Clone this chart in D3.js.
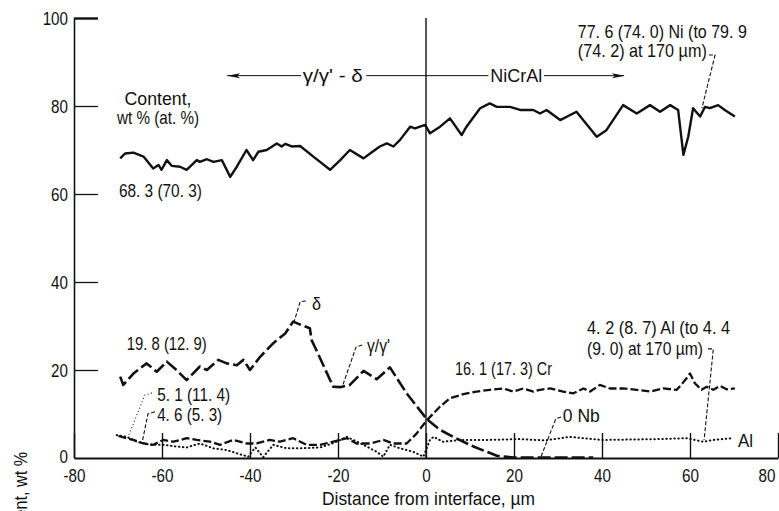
<!DOCTYPE html>
<html>
<head>
<meta charset="utf-8">
<script src="https://cdn.jsdelivr.net/npm/d3@7/dist/d3.min.js"></script>
<style>
  body { margin: 0; background: #fff; }
  svg text { font-family: "Liberation Sans", Arial, sans-serif; fill: #111; }
</style>
</head>
<body>
<div id="container"></div>
<script>
// axis ticks
var xTicks = [-80, -60, -40, -20, 0, 20, 40, 60, 80];
var yTicks = [0, 20, 40, 60, 80, 100];

// Ni content, wt % (solid line)
var niPoints = [[-69.5,68.1],[-68.4,69.2],[-66.5,69.4],[-64.2,68.5],[-62,65.8],[-60.8,66.6],[-60.1,65.5],
  [-58.9,67.7],[-57.8,66.4],[-55.9,66.2],[-54.4,65.5],[-52.1,67.7],[-51.4,67.3],[-49.8,67.9],[-48.3,67.3],
  [-46.4,67.7],[-44.5,63.9],[-43,66.2],[-40.8,70],[-39.3,67.7],[-38.1,69.6],[-36.2,70],[-33.9,71.5],
  [-32.8,70.8],[-32,71.4],[-30.5,70.8],[-28.6,70.9],[-25.6,68.5],[-21.8,65.5],[-19.5,67.7],[-17.3,70],
  [-14.2,68.1],[-12.7,69.2],[-10.5,70.8],[-8.9,71.5],[-7.4,70.8],[-5.9,72.3],[-3.6,75.3],[-2.5,74.9],
  [-0.2,75.7],[0.9,73.8],[3.2,75.3],[5.45,77.2],[8.1,73.4],[9.2,75.3],[12.3,79.5],[14.5,80.6],[16.1,79.8],
  [19.1,79.8],[21.4,79.1],[24.4,79.1],[25.9,78.3],[27.4,79.1],[30.5,76.8],[34.2,78.7],[38.8,73.0],
  [41.0,74.5],[44.8,80.2],[47.9,78.3],[50.9,80.2],[53.2,78.7],[55.5,80.2],[57.3,79.1],[58.5,68.9],
  [59.6,73.0],[60.7,79.5],[62.3,77.6],[63.4,79.8],[64.5,79.5],[66.4,80.2],[67.9,79.1],[70.2,77.6]];

// Nb content, wt % (long dashes)
var nbPoints = [[-69.5,18.5],[-68.8,16.6],[-66.5,19.2],[-63.5,21.5],[-61.2,19.6],[-58.9,21.9],[-56.7,20],
  [-54.4,17.7],[-51.4,20.8],[-49.8,20],[-47.2,22.3],[-45.3,21.5],[-43,21.1],[-41.5,22.3],[-40,20],
  [-37.7,23.0],[-34.7,26.1],[-32,28.3],[-30.2,31.0],[-28.3,30.2],[-26.4,29.5],[-26,26.8],[-24.9,24.5],
  [-21.1,16.2],[-19.5,16.1],[-17.3,16.6],[-14.2,19.8],[-11.2,17.9],[-8.2,20.6],[-4.4,14.7],[0.2,8.8],
  [3.2,6.4],[6.2,4.8],[10.8,2.6],[16.1,0.5],[20,0.1],[38,0.1]];

// Cr content, wt % (short dashes)
var crPoints = [[-69.9,5.0],[-66.5,4.1],[-64.2,3.3],[-62,3.0],[-59.7,4.1],[-57.4,3.7],[-54.4,4.5],
  [-52.1,4.1],[-49.1,3.7],[-46.8,3.0],[-43.8,4.1],[-40.8,3.3],[-38.5,3.3],[-35.5,4.1],[-33.2,3.7],
  [-30.2,4.5],[-27.1,3.0],[-24.1,3.0],[-21.1,3.7],[-18.0,4.5],[-15.8,3.3],[-12.7,3.3],[-9.7,4.1],
  [-7.4,3.3],[-4.4,3.3],[-2.1,5.6],[0.2,8.6],[3.2,11.7],[5.45,13.6],[8.5,14.5],[11.5,15.1],[14.5,15.5],
  [17.6,15.8],[19.8,15.1],[22.1,15.8],[24.4,15.1],[25.9,15.5],[28.2,15.8],[31.2,15.1],[33.5,14.7],
  [35.8,15.8],[37.3,15.1],[39.5,16.6],[41.8,15.8],[44.8,15.8],[47.9,15.5],[50.9,15.1],[53.9,15.8],
  [57,15.5],[58.9,17.7],[60,19.2],[61.1,17.0],[62.6,15.5],[63.8,16.2],[65.3,15.5],[66.8,16.4],
  [68.3,15.6],[70.2,15.8]];

// Al content, wt % (dotted)
var alPoints = [[-70.3,5.2],[-68,4.8],[-65.8,3.7],[-62.7,3.0],[-59.7,3.0],[-56.7,2.6],[-54.4,2.4],
  [-51.4,3.3],[-48.3,2.2],[-45.3,1.8],[-42.5,0.9],[-40.4,0.3],[-38.8,2.4],[-37,0.2],[-34.7,3.0],
  [-31.7,2.2],[-28.6,2.2],[-24,2.4],[-21,3.4],[-18,4.8],[-14.2,3.0],[-11.2,1.4],[-9.7,0.3],[-8.2,3.0],
  [-5.9,2.2],[-2.9,1.4],[-0.6,0.3],[0.9,4.1],[1.7,4.8],[3.9,3.7],[7.7,4.1],[14,4.1],[21.4,4.3],
  [27,4.0],[32.7,4.8],[40,4.1],[47,4.2],[53,4.3],[59.2,4.5],[63,3.7],[65.3,4.1],[69.5,4.5]];

var margin = {left: 74, right: 1, top: 18, bottom: 53};
var width = 779, height = 511;
var fontSize = "19px";

var svg = d3.select("#container").append("svg")
  .attr("width", width)
  .attr("height", height);

var xScale = d3.scaleLinear().domain([-80, 80]).range([margin.left, width - margin.right]);
var yScale = d3.scaleLinear().domain([0, 100]).range([height - margin.bottom, margin.top]);

// squeeze text horizontally, the figure uses a condensed face
function narrow(sel, k) {
  sel.each(function() {
    var w = this.getComputedTextLength();
    d3.select(this).attr("textLength", w * k).attr("lengthAdjust", "spacingAndGlyphs");
  });
}

// y axis, ticks pointing into the plot
var yAxis = d3.axisLeft(yScale)
  .tickValues(yTicks.filter(function(d) { return d > 0; }))
  .tickSizeInner(-24)
  .tickSizeOuter(0)
  .tickPadding(6);

var gy = svg.append("g")
  .attr("transform", "translate(" + margin.left + ",0)")
  .call(yAxis);
gy.select(".domain").attr("stroke", "#111").attr("stroke-width", 1.6);
gy.selectAll(".tick line").attr("stroke", "#111").attr("stroke-width", 1.3);
gy.selectAll(".tick text").style("font-size", fontSize).attr("fill", "#111").call(narrow, 0.8);
gy.selectAll(".tick").filter(function(d) { return d === 100; })
  .select("line").attr("stroke-width", 2.4);

// zero label on y
svg.append("text")
  .attr("x", margin.left - 6)
  .attr("y", yScale(0) - 1)
  .attr("dy", "0.3em")
  .attr("text-anchor", "end")
  .style("font-size", fontSize)
  .text("0")
  .call(narrow, 0.8);

// x axis, ticks pointing up
var xAxis = d3.axisBottom(xScale)
  .tickValues(xTicks)
  .tickSizeInner(-25)
  .tickSizeOuter(0)
  .tickPadding(11)
  .tickFormat(function(d) { return d < 0 ? "-" + Math.abs(d) : "" + d; });

var gx = svg.append("g")
  .attr("transform", "translate(0," + yScale(0) + ")")
  .call(xAxis);
gx.select(".domain").attr("stroke", "#111").attr("stroke-width", 2.2);
gx.selectAll(".tick line").attr("stroke", "#111").attr("stroke-width", 1.4);
gx.selectAll(".tick text").style("font-size", fontSize).attr("fill", "#111").call(narrow, 0.8);
gx.selectAll(".tick").filter(function(d) { return d === 80; })
  .select("text").attr("text-anchor", "end").attr("x", -3);

// interface line
svg.append("line")
  .attr("x1", xScale(0)).attr("x2", xScale(0))
  .attr("y1", yScale(100)).attr("y2", yScale(0))
  .attr("stroke", "#111").attr("stroke-width", 1.4);

// axis titles
svg.append("text")
  .attr("x", 322)
  .attr("y", 505)
  .style("font-size", fontSize)
  .attr("textLength", 213).attr("lengthAdjust", "spacingAndGlyphs")
  .text("Distance from interface, \u00b5m");

svg.append("text")
  .attr("transform", "translate(27,452) rotate(-90)")
  .attr("text-anchor", "end")
  .style("font-size", fontSize)
  .text("Content, wt %")
  .call(narrow, 0.85);

// curves
var line = d3.line()
  .x(function(d) { return xScale(d[0]); })
  .y(function(d) { return yScale(d[1]); });

var curves = svg.append("g").attr("fill", "none").attr("stroke", "#111")
  .attr("stroke-linejoin", "round");

curves.append("path").datum(niPoints).attr("d", line)
  .attr("stroke-width", 2.4);
curves.append("path").datum(nbPoints).attr("d", line)
  .attr("stroke-width", 2.6).attr("stroke-dasharray", "13,4");
curves.append("path").datum(crPoints).attr("d", line)
  .attr("stroke-width", 2.3).attr("stroke-dasharray", "8,3");
curves.append("path").datum(alPoints).attr("d", line)
  .attr("stroke-width", 2).attr("stroke-linecap", "round").attr("stroke-dasharray", "0.5,3.5");

// annotation labels (data coordinates, w = printed width in px)
var labels = [
  {x: -60.9, y: 80.2, t: "Content,", a: "middle", w: 67},
  {x: -60.9, y: 75.9, t: "wt % (at. %)", a: "middle", w: 82},
  {x: -69.8, y: 59.3, t: "68. 3 (70. 3)", a: "start", w: 83},
  {x: -68.0, y: 24.5, t: "19. 8 (12. 9)", a: "start", w: 80},
  {x: -61.1, y: 13.0, t: "5. 1 (11. 4)", a: "start", w: 73},
  {x: -61.1, y: 8.4, t: "4. 6 (5. 3)", a: "start", w: 65},
  {x: -25.9, y: 33.6, t: "\u03b4", a: "start", w: 9},
  {x: -13.4, y: 24.1, t: "\u03b3/\u03b3'", a: "start", w: 23},
  {x: 6.6, y: 18.9, t: "16. 1 (17. 3) Cr", a: "start", w: 97},
  {x: 31.1, y: 8.2, t: "0 Nb", a: "start", w: 37},
  {x: 70.9, y: 2.5, t: "Al", a: "start", w: 15},
  {x: 36.6, y: 28.2, t: "4. 2 (8. 7) Al (to 4. 4", a: "start", w: 143},
  {x: 36.6, y: 23.4, t: "(9. 0) at 170 \u00b5m)", a: "start", w: 116},
  {x: 34.5, y: 95.5, t: "77. 6 (74. 0) Ni (to 79. 9", a: "start", w: 169},
  {x: 34.5, y: 91.1, t: "(74. 2) at 170 \u00b5m)", a: "start", w: 129},
  {x: -21.2, y: 86.9, t: "\u03b3/\u03b3' - \u03b4", a: "middle", w: 60},
  {x: 20.5, y: 86.9, t: "NiCrAl", a: "middle", w: 52}
];

svg.append("g").selectAll("text")
  .data(labels)
  .enter()
  .append("text")
  .attr("x", function(d) { return xScale(d.x); })
  .attr("y", function(d) { return yScale(d.y); })
  .attr("dy", function(d) { return Math.abs(d.y - 86.9) < 0.01 ? "0.35em" : 0; })
  .attr("text-anchor", function(d) { return d.a; })
  .attr("textLength", function(d) { return d.w; })
  .attr("lengthAdjust", "spacingAndGlyphs")
  .style("font-size", fontSize)
  .text(function(d) { return d.t; });

// leader lines
var leaders = [
  {pts: [[-62.3,14.8],[-63.9,14.3],[-67.7,4.8]], dash: "1,2.5"},
  {pts: [[-61.6,10.5],[-63.2,10.0],[-64.5,3.6]], dash: "4,2"},
  {pts: [[-27.3,35.7],[-28.6,35.5],[-30,30.9]], dash: "4,2"},
  {pts: [[-14.5,25.7],[-15.9,25.2],[-18.9,16.6]], dash: "4,2"},
  {pts: [[30.7,9.3],[29.5,8.9],[26.1,0.2]], dash: "4,2"},
  {pts: [[64.1,24.8],[65.3,24.8],[63.2,4.1]], dash: "4,2"},
  {pts: [[64.3,91.6],[65.7,91.6],[62.7,79.5]], dash: "4,2"}
];

svg.append("g").selectAll("path")
  .data(leaders)
  .enter()
  .append("path")
  .attr("d", function(d) { return line(d.pts); })
  .attr("fill", "none")
  .attr("stroke", "#111")
  .attr("stroke-width", 1.1)
  .attr("stroke-dasharray", function(d) { return d.dash; });

// phase arrows
var phaseY = 86.9;
var arrowSegs = [[-45.2, -28.4], [-13.6, 14.2], [26.8, 45.0]];
svg.append("g").selectAll("line")
  .data(arrowSegs)
  .enter()
  .append("line")
  .attr("x1", function(d) { return xScale(d[0]); })
  .attr("x2", function(d) { return xScale(d[1]); })
  .attr("y1", yScale(phaseY)).attr("y2", yScale(phaseY))
  .attr("stroke", "#111").attr("stroke-width", 1);

function arrowHead(xv, dir) {
  var px = xScale(xv), py = yScale(phaseY);
  return "M" + px + "," + py + "L" + (px - dir * 13) + "," + (py - 2.5) +
    "L" + (px - dir * 10) + "," + py + "L" + (px - dir * 13) + "," + (py + 2.5) + "Z";
}
svg.append("path").attr("d", arrowHead(-45.2, -1)).attr("fill", "#111");
svg.append("path").attr("d", arrowHead(45.2, 1)).attr("fill", "#111");
</script>
</body>
</html>
